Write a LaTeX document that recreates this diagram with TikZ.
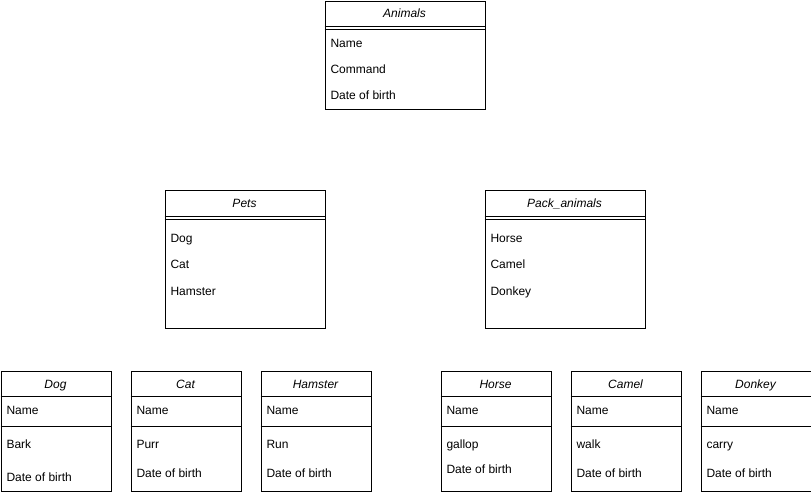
\documentclass[tikz,border=0pt]{standalone}
\usepackage{fontspec}
\setmainfont{Liberation Sans}
\usepackage{tikz}
\usetikzlibrary{positioning}
\tikzset{
    classbox/.style={
           rectangle,
           draw=black,
           line width=1pt,
           anchor=north west,
           inner sep=0pt,
           },
}

\begin{document}
\begin{tikzpicture}[
  x=1pt,y=-1pt,
  line width=1pt,
  every node/.style={font=\fontsize{12}{14}\selectfont},
  classname/.style={anchor=base,font=\fontsize{12}{14}\selectfont\itshape},
  member/.style={anchor=base west,inner sep=0pt},
  topbox/.style={classbox,minimum width=160pt},
  leafbox/.style={classbox,minimum width=110pt,minimum height=120pt}]
\useasboundingbox (0,0) rectangle (811,494);
% top class
\node[topbox,minimum height=108pt](animals) at (324.5,1.5){};
\node[classname](animalstitle) at (404.5,18){Animals};
\node[member](animalsname) at (330,48){Name};
\node[member](animalscmd) at (330,74){Command};
\node[member](animalsdob) at (330,100){Date of birth};
\draw ([yshift=-25pt]animals.north west) -- ([yshift=-25pt]animals.north east)
      ([yshift=-28pt]animals.north west) -- ([yshift=-28pt]animals.north east);
% middle classes
\node[topbox,minimum height=137pt](pets) at (164.5,190.5){};
\node[classname](petstitle) at (244.5,207.5){Pets};
\node[member](petsdog) at (170,243){Dog};
\node[member](petscat) at (170,269){Cat};
\node[member](petshamster) at (170,295){Hamster};
\draw ([yshift=-26pt]pets.north west) -- ([yshift=-26pt]pets.north east)
      ([yshift=-29pt]pets.north west) -- ([yshift=-29pt]pets.north east);
\node[topbox,minimum height=137pt](packanimals) at (484.5,190.5){};
\node[classname](packanimalstitle) at (564.5,207.5){Pack\_animals};
\node[member](packhorse) at (490,243){Horse};
\node[member](packcamel) at (490,269){Camel};
\node[member](packdonkey) at (490,295){Donkey};
\draw ([yshift=-26pt]packanimals.north west) -- ([yshift=-26pt]packanimals.north east)
      ([yshift=-29pt]packanimals.north west) -- ([yshift=-29pt]packanimals.north east);
% leaf classes
\node[leafbox](dog) at (0.5,370.5){};
\node[classname](dogtitle) at (55.5,388){Dog};
\node[member](dogname) at (6,414){Name};
\node[member](dogcmd) at (6,448){Bark};
\node[member](dogdob) at (6,481.5){Date of birth};
\draw ([yshift=-26pt]dog.north west) -- ([yshift=-26pt]dog.north east)
      ([yshift=-56pt]dog.north west) -- ([yshift=-56pt]dog.north east);
\node[leafbox](cat) at (130.5,370.5){};
\node[classname](cattitle) at (185.5,388){Cat};
\node[member](catname) at (136,414){Name};
\node[member](catcmd) at (136,448){Purr};
\node[member](catdob) at (136,477.5){Date of birth};
\draw ([yshift=-26pt]cat.north west) -- ([yshift=-26pt]cat.north east)
      ([yshift=-56pt]cat.north west) -- ([yshift=-56pt]cat.north east);
\node[leafbox](hamster) at (260.5,370.5){};
\node[classname](hamstertitle) at (315.5,388){Hamster};
\node[member](hamstername) at (266,414){Name};
\node[member](hamstercmd) at (266,448){Run};
\node[member](hamsterdob) at (266,477.5){Date of birth};
\draw ([yshift=-26pt]hamster.north west) -- ([yshift=-26pt]hamster.north east)
      ([yshift=-56pt]hamster.north west) -- ([yshift=-56pt]hamster.north east);
\node[leafbox](horse) at (440.5,370.5){};
\node[classname](horsetitle) at (495.5,388){Horse};
\node[member](horsename) at (446,414){Name};
\node[member](horsecmd) at (446,448){gallop};
\node[member](horsedob) at (446,473.5){Date of birth};
\draw ([yshift=-26pt]horse.north west) -- ([yshift=-26pt]horse.north east)
      ([yshift=-56pt]horse.north west) -- ([yshift=-56pt]horse.north east);
\node[leafbox](camel) at (570.5,370.5){};
\node[classname](cameltitle) at (625.5,388){Camel};
\node[member](camelname) at (576,414){Name};
\node[member](camelcmd) at (576,448){walk};
\node[member](cameldob) at (576,477.5){Date of birth};
\draw ([yshift=-26pt]camel.north west) -- ([yshift=-26pt]camel.north east)
      ([yshift=-56pt]camel.north west) -- ([yshift=-56pt]camel.north east);
\node[leafbox](donkey) at (700.5,370.5){};
\node[classname](donkeytitle) at (755.5,388){Donkey};
\node[member](donkeyname) at (706,414){Name};
\node[member](donkeycmd) at (706,448){carry};
\node[member](donkeydob) at (706,477.5){Date of birth};
\draw ([yshift=-26pt]donkey.north west) -- ([yshift=-26pt]donkey.north east)
      ([yshift=-56pt]donkey.north west) -- ([yshift=-56pt]donkey.north east);
\end{tikzpicture}
\end{document}
